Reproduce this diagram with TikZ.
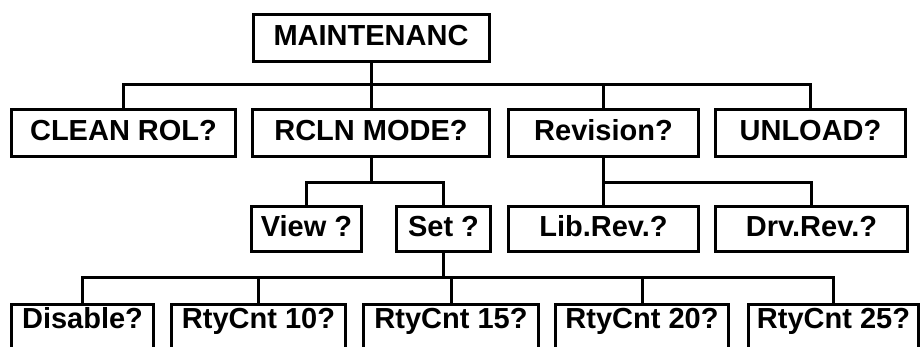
\documentclass[tikz,border=0pt]{standalone}
\usepackage{fontspec}
\setmainfont{Liberation Sans}

\begin{document}
\begin{tikzpicture}[
    x=1pt, y=-1pt,
    menu/.style={draw, line width=3pt, inner sep=0pt, font=\fontsize{29}{31}\selectfont\bfseries,
                 text height=21pt, text depth=5pt, minimum height=47pt},
    leaf/.style={menu, anchor=north, minimum height=0pt, inner ysep=3pt, text depth=44pt},
    link/.style={line width=3pt}
]
    \path[use as bounding box, clip] (0,0) rectangle (924,347);

    % Top menu
    \node[menu, minimum width=236pt] (main) at (371,38) {MAINTENANC};

    % First level
    \node[menu, minimum width=224pt] (clean) at (123.5,133) {CLEAN ROL?};
    \node[menu, minimum width=237pt] (rcln) at (371,133) {RCLN MODE?};
    \node[menu, minimum width=190pt] (revision) at (603.5,133) {Revision?};
    \node[menu, minimum width=190pt] (unload) at (810.5,133) {UNLOAD?};

    % Second level
    \node[menu, minimum width=110pt, minimum height=45pt] (view) at (306.5,229) {View ?};
    \node[menu, minimum width=94pt, minimum height=45pt] (set) at (443.5,229) {Set ?};
    \node[menu, minimum width=190pt, minimum height=45pt] (lib) at (603.5,229) {Lib.Rev.?};
    \node[menu, minimum width=192pt, minimum height=45pt] (drv) at (811.5,229) {Drv.Rev.?};

    % Third level
    \node[leaf, minimum width=142pt] (disable) at (82.5,303.5) {Disable?};
    \node[leaf, minimum width=174pt] (rty10) at (258.5,303.5) {RtyCnt 10?};
    \node[leaf, minimum width=175pt] (rty15) at (451,303.5) {RtyCnt 15?};
    \node[leaf, minimum width=173pt] (rty20) at (642,303.5) {RtyCnt 20?};
    \node[leaf, minimum width=170pt] (rty25) at (833.5,303.5) {RtyCnt 25?};

    % Buses
    \coordinate (bus1) at (0,85);
    \coordinate (bus2) at (0,183);
    \coordinate (bus3) at (0,278);

    % Links
    \draw[link] (main.south) -- (rcln.north);
    \draw[link] (clean.north) |- (unload.north |- bus1) -- (unload.north);
    \draw[link] (revision.north) -- (revision.north |- bus1);

    \draw[link] (rcln.south) -- (rcln.south |- bus2);
    \draw[link] (view.north) |- (set.north |- bus2) -- (set.north);
    \draw[link] (revision.south) -- (lib.north);
    \draw[link] (lib.north |- bus2) -| (drv.north);

    \draw[link] (set.south) -- (set.south |- bus3);
    \draw[link] (disable.north) |- (rty25.north |- bus3) -- (rty25.north);
    \foreach \n in {rty10,rty15,rty20}
        \draw[link] (\n.north) -- (\n.north |- bus3);
\end{tikzpicture}
\end{document}
